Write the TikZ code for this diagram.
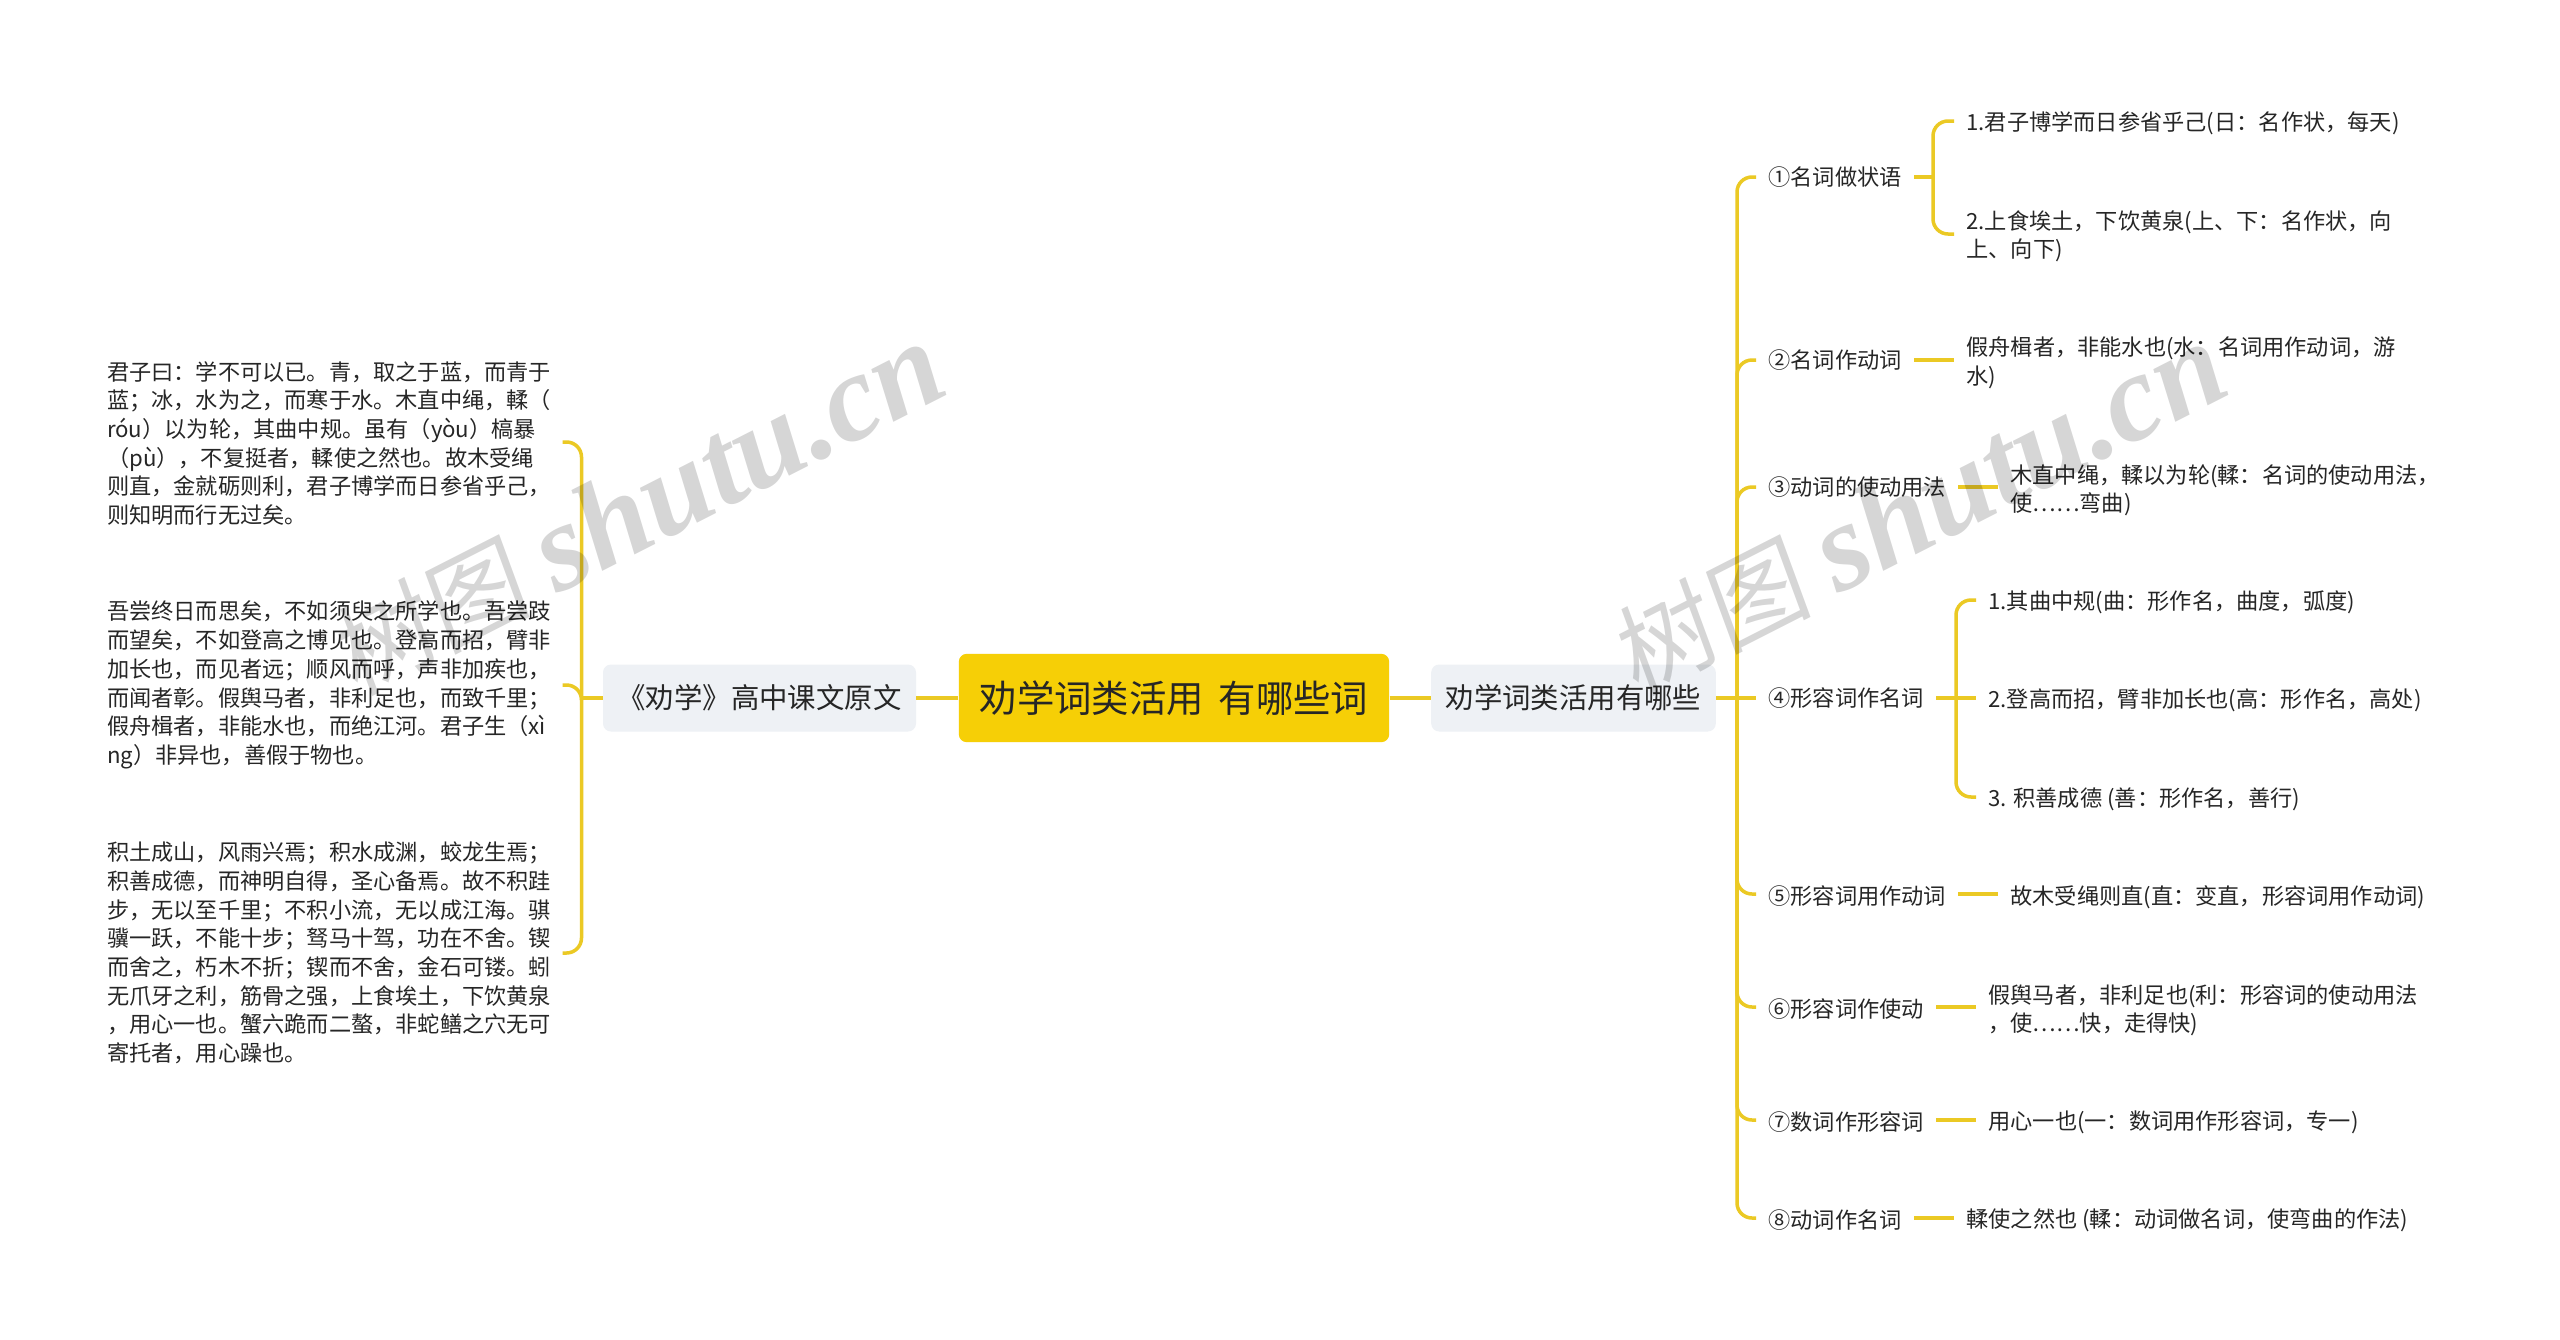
\documentclass[tikz,border=0pt]{standalone}
\usepackage{fontspec}
\setmainfont{Noto Sans CJK SC}
\newfontfamily\stampsans[FakeSlant=0.12]{Noto Sans CJK SC}
\newfontfamily\stampserif{Liberation Serif}
\usepackage{tikz}
\usetikzlibrary{calc}
\definecolor{myyellow}{RGB}{246, 207, 6}
\definecolor{myline}{RGB}{235, 201, 36}
\definecolor{mygray}{RGB}{238, 241, 245}
\definecolor{myink}{RGB}{38, 38, 38}
\newcommand{\lift}[1]{\rule{0pt}{#1pt}}
\tikzset{
  base/.style = {inner ysep = 0pt, inner xsep = 6pt, text = myink, align = left, font = \fontsize{11.1}{14.35}\selectfont},
  parabox/.style = {base, anchor = west, inner xsep = 5.5pt},
  usebox/.style = {base, anchor = west},
  leafbox/.style = {base, anchor = west},
  rootbox/.style = {fill = myyellow, rounded corners = 4pt, text = myink, minimum width = 215.2pt, minimum height = 44.2pt, inner sep = 0pt, font = \fontsize{18.7}{22}\selectfont},
  mainbox/.style = {fill = mygray, rounded corners = 4pt, text = myink, minimum height = 33.5pt, inner ysep = 0pt, inner xsep = 7.25pt, font = \fontsize{14.2}{18}\selectfont},
  link/.style = {draw = myline, line width = 1.75pt, rounded corners = 7.5pt},
  stamp/.style = {text = black, opacity = 0.16, rotate = 27, inner sep = 0pt}
}
\begin{document}
\begin{tikzpicture}[x = 0.5pt, y = -0.5pt]
\useasboundingbox (0,0) rectangle (2560,1339);
\fill[white] (0,0) rectangle (2560,1339);

\node[rootbox] (root) at (1174,698) {劝学词类活用 \,有哪些词};
\node[mainbox] (origin) at (759.5,698) {《劝学》高中课文原文};
\node[mainbox] (kinds) at (1573.5,698) {劝学词类活用有哪些};

\node[parabox] (para1) at (95.7,442) {\lift{10.9}君子曰：学不可以已。青，取之于蓝，而青于\\蓝；冰，水为之，而寒于水。木直中绳，輮（\\róu）以为轮，其曲中规。虽有（yòu）槁暴\\（pù），不复挺者，輮使之然也。故木受绳\\则直，金就砺则利，君子博学而日参省乎己，\\则知明而行无过矣。};
\node[parabox] (para2) at (95.7,685) {吾尝终日而思矣，不如须臾之所学也。吾尝跂\\而望矣，不如登高之博见也。登高而招，臂非\\加长也，而见者远；顺风而呼，声非加疾也，\\而闻者彰。假舆马者，非利足也，而致千里；\\假舟楫者，非能水也，而绝江河。君子生（xì\\ng）非异也，善假于物也。};
\node[parabox] (para3) at (95.7,953) {积土成山，风雨兴焉；积水成渊，蛟龙生焉；\\积善成德，而神明自得，圣心备焉。故不积跬\\步，无以至千里；不积小流，无以成江海。骐\\骥一跃，不能十步；驽马十驾，功在不舍。锲\\而舍之，朽木不折；锲而不舍，金石可镂。蚓\\无爪牙之利，筋骨之强，上食埃土，下饮黄泉\\，用心一也。蟹六跪而二螯，非蛇鳝之穴无可\\寄托者，用心躁也。};

\node[usebox] (use1) at (1756,177) {①名词做状语};
\node[usebox] (use2) at (1756,360) {②名词作动词};
\node[usebox] (use3) at (1756,487) {③动词的使动用法};
\node[usebox] (use4) at (1756,698) {④形容词作名词};
\node[usebox] (use5) at (1756,894) {\lift{11.2}⑤形容词用作动词};
\node[usebox] (use6) at (1756,1007) {\lift{11.2}⑥形容词作使动};
\node[usebox] (use7) at (1756,1120) {\lift{11.2}⑦数词作形容词};
\node[usebox] (use8) at (1756,1218) {\lift{11.2}⑧动词作名词};

\node[leafbox] (leaf1a) at (1954,121) {\lift{11.3}1.君子博学而日参省乎己(日：名作状，每天)};
\node[leafbox] (leaf1b) at (1954,234) {\lift{11.8}2.上食埃土，下饮黄泉(上、下：名作状，向\\上、向下)};
\node[leafbox] (leaf2) at (1954,360) {\lift{12.2}假舟楫者，非能水也(水：名词用作动词，游\\水)};
\node[leafbox] (leaf3) at (1998,487) {\lift{12.6}木直中绳，輮以为轮(輮：名词的使动用法，\\使……弯曲)};
\node[leafbox] (leaf4a) at (1976,600) {\lift{11.3}1.其曲中规(曲：形作名，曲度，弧度)};
\node[leafbox] (leaf4b) at (1976,698) {\lift{12}2.登高而招，臂非加长也(高：形作名，高处)};
\node[leafbox] (leaf4c) at (1976,797) {\lift{11.3}3. 积善成德 (善：形作名，善行)};
\node[leafbox] (leaf5) at (1998,894) {\lift{12.6}故木受绳则直(直：变直，形容词用作动词)};
\node[leafbox] (leaf6) at (1976,1007) {\lift{12.6}假舆马者，非利足也(利：形容词的使动用法\\，使……快，走得快)};
\node[leafbox] (leaf7) at (1976,1120) {\lift{12}用心一也(一：数词用作形容词，专一)};
\node[leafbox] (leaf8) at (1954,1218) {\lift{12}輮使之然也 (輮：动词做名词，使弯曲的作法)};

\coordinate (hubL) at (581.5,698);
\coordinate (hubR) at (1737,698);
\coordinate (hub1) at (1933,177);
\coordinate (hub4) at (1956,698);

\draw[link] (root.west) -- (origin.east);
\draw[link] (root.east) -- (kinds.west);
\draw[link] (origin.west) -- (hubL);
\draw[link] (kinds.east) -- (use4.west);
\foreach \i in {1, 2, 3}{
\draw[link] (hubL) |- (para\i.east);
}
\foreach \i in {1, 2, 3, 5, 6, 7, 8}{
\draw[link] (hubR) |- (use\i.west);
}
\foreach \i in {2, 3, 5, 6, 7, 8}{
\draw[link] (use\i.east) -- (leaf\i.west);
}
\draw[link] (use1.east) -- (hub1);
\draw[link] (hub1) |- (leaf1a.west);
\draw[link] (hub1) |- (leaf1b.west);
\draw[link] (use4.east) -- (leaf4b.west);
\draw[link] (hub4) |- (leaf4a.west);
\draw[link] (hub4) |- (leaf4c.west);

\begin{scope}
\clip (0,0) rectangle (2560,1339);
\foreach \n / \x / \y in {a / 637 / 510, b / 1918 / 510, c / 628 / 1511, d / 1909 / 1511}{
\node[stamp] (stamp\n) at (\x,\y) {\fontsize{50}{60}\selectfont\stampsans 树图\hspace{13pt}\fontsize{62}{60}\stampserif\bfseries\itshape shutu.cn};
}
\end{scope}
\end{tikzpicture}
\end{document}
